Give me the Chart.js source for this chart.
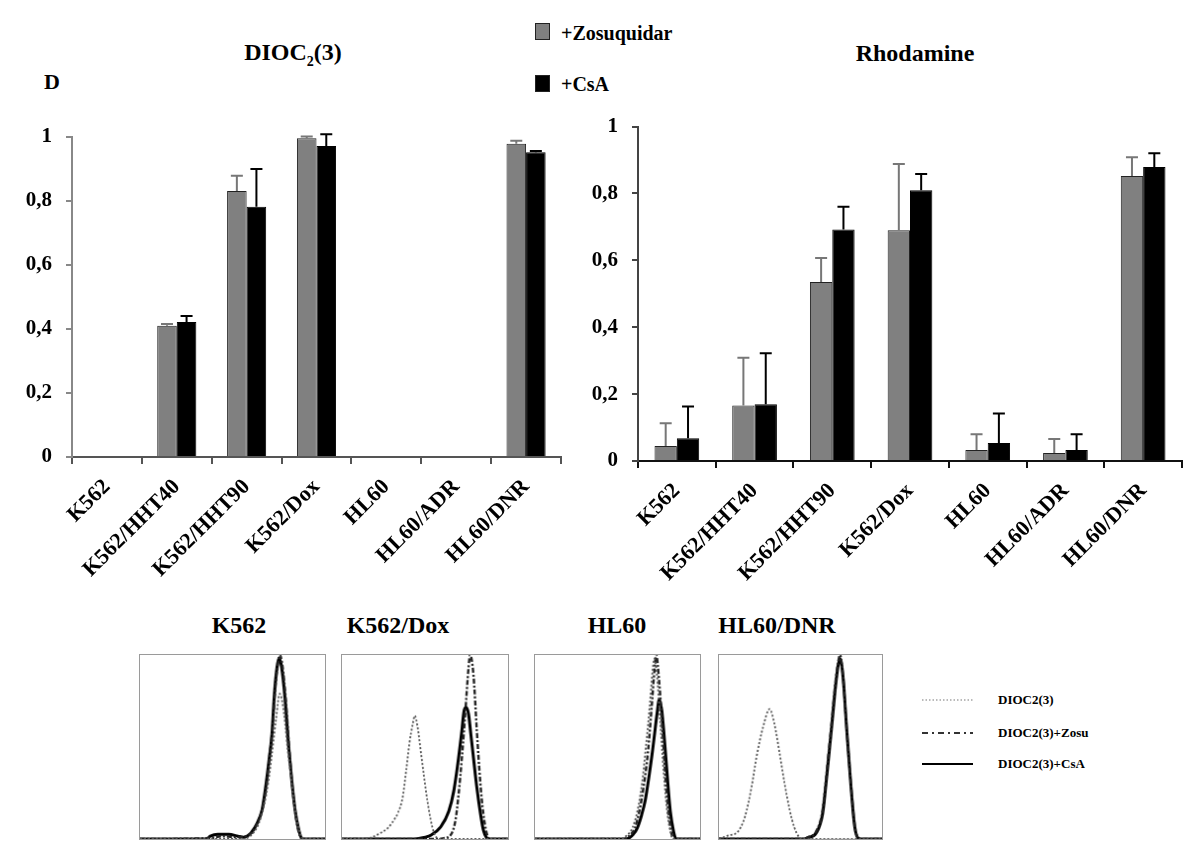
<!DOCTYPE html>
<html lang="en">
<head>
<meta charset="UTF-8">
<title>DIOC2(3) / Rhodamine efflux</title>
<script src="https://cdn.jsdelivr.net/npm/chart.js"></script>
<style>
  body { margin: 0; background: #fff; }
  #page { position: relative; width: 1200px; height: 864px; overflow: hidden;
          font-family: "Liberation Serif", "DejaVu Serif", serif; font-weight: bold; color: #000; }
  .abs { position: absolute; white-space: nowrap; }
  .title { font-size: 24px; line-height: 28px; transform: translate(-50%, -50%); }
  .leg { font-size: 20px; line-height: 22px; transform: translateY(-50%); }
  .sq { width: 15px; height: 17px; border: 1px solid #222; box-sizing: border-box; }
  .small { font-size: 13px; line-height: 14px; transform: translateY(-50%); }
  .panel { border: 1px solid #9a9a9a; }
</style>
</head>
<body>
<div id="page">
  <div class="abs title" style="left:293px; top:57px;">DIOC<sub style="font-size:14px;">2</sub>(3)</div>
  <div class="abs title" style="left:915px; top:53px;">Rhodamine</div>
  <div class="abs title" style="left:52px; top:82px; font-size:22px;">D</div>

  <div class="abs sq" style="left:535px; top:23px; background:#808080;"></div>
  <div class="abs leg" style="left:561px; top:33px;">+Zosuquidar</div>
  <div class="abs sq" style="left:535px; top:75px; background:#000;"></div>
  <div class="abs leg" style="left:561px; top:84px;">+CsA</div>

  <canvas id="diocChart" class="abs" width="600" height="500" style="left:0; top:110px;"></canvas>
  <canvas id="rhoChart" class="abs" width="640" height="500" style="left:560px; top:100px;"></canvas>

  <div class="abs title" style="left:239px; top:625px;">K562</div>
  <div class="abs title" style="left:398px; top:625px;">K562/Dox</div>
  <div class="abs title" style="left:617px; top:625px;">HL60</div>
  <div class="abs title" style="left:777px; top:625px;">HL60/DNR</div>

  <canvas id="histK562" class="abs panel" width="187" height="186" style="left:139px; top:654px;"></canvas>
  <canvas id="histDox" class="abs panel" width="168" height="186" style="left:341px; top:654px;"></canvas>
  <canvas id="histHL60" class="abs panel" width="167" height="186" style="left:534px; top:654px;"></canvas>
  <canvas id="histDNR" class="abs panel" width="165" height="186" style="left:718px; top:654px;"></canvas>

  <svg class="abs" style="left:920px; top:690px;" width="60" height="85">
    <line x1="2" y1="10" x2="53" y2="10" stroke="#777" stroke-width="1.2" stroke-dasharray="1.5 2"/>
    <line x1="2" y1="43" x2="53" y2="43" stroke="#333" stroke-width="2" stroke-dasharray="6 4 2 4"/>
    <line x1="2" y1="74" x2="53" y2="74" stroke="#000" stroke-width="2"/>
  </svg>
  <div class="abs small" style="left:998px; top:700px;">DIOC2(3)</div>
  <div class="abs small" style="left:998px; top:733px;">DIOC2(3)+Zosu</div>
  <div class="abs small" style="left:998px; top:764px;">DIOC2(3)+CsA</div>
</div>

<script>
  // bar charts: fraction of inhibition per cell line
  const cellLines = ['K562', 'K562/HHT40', 'K562/HHT90', 'K562/Dox', 'HL60', 'HL60/ADR', 'HL60/DNR'];
  const yTicks = ['0', '0,2', '0,4', '0,6', '0,8', '1'];

  const diocZosu    = [0, 0.41, 0.83, 0.995, 0, 0, 0.978];
  const diocZosuErr = [0, 0.005, 0.048, 0.005, 0, 0, 0.009];
  const diocCsa     = [0, 0.421, 0.781, 0.971, 0, 0, 0.951];
  const diocCsaErr  = [0, 0.019, 0.118, 0.036, 0, 0, 0.004];

  const rhoZosu    = [0.045, 0.166, 0.535, 0.69, 0.033, 0.024, 0.852];
  const rhoZosuErr = [0.068, 0.143, 0.072, 0.198, 0.047, 0.042, 0.056];
  const rhoCsa     = [0.068, 0.17, 0.692, 0.81, 0.054, 0.033, 0.879];
  const rhoCsaErr  = [0.095, 0.152, 0.068, 0.048, 0.088, 0.047, 0.041];

  // histograms: [channel, % of peak]
  const k562Dioc = [[0,0],[55,0],[60,2],[64,8],[67,18],[69.5,32],[71.5,48],[73.5,65],[75.5,79],[77,74],[78.5,62],[80,47],[81.8,32],[83.5,18],[85.5,7],[87.5,1],[90,0],[100,0]];
  const k562Zosu = [[0,0],[38,0.5],[44,1.5],[52,1],[57,1.5],[61,4],[64,10],[66.5,18],[68.5,30],[70,45],[71.8,62],[73,80],[74.5,95],[75.6,100],[77,94],[78.8,76],[80.6,50],[82.4,28],[84.2,12],[86,3],[88,0],[100,0]];
  const k562Csa  = [[0,0],[36,0],[38,1.5],[42,2.5],[48,2.5],[53,1.5],[56,1],[60,3.4],[63.4,8.8],[66,16],[67.7,26.7],[69.5,41],[71.3,57],[72.5,77],[74,93],[75.2,98.5],[76.6,93],[78.4,76],[80.2,52],[82,32],[83.8,16],[85.6,6],[87.3,0.5],[89,0],[100,0]];

  const doxDioc = [[0,0],[14,0],[18,1],[21.6,2.5],[27.6,6],[31,10],[33.6,14],[36.6,23],[38.7,37.6],[40.6,52],[42.6,62.5],[43.8,67],[45.5,61],[47.4,48],[49.4,34],[51.4,21],[53.4,10.5],[55.4,3.4],[57.3,0.5],[60,0],[100,0]];
  const doxZosu = [[0,0],[58,0],[61.3,0.5],[65.3,2],[68.3,10],[70.2,24],[72.2,44],[74.2,68],[76.2,93],[77.2,100],[79.2,89],[81.2,59],[83.2,32],[85.1,14],[87.1,3.4],[89.1,0],[100,0]];
  const doxCsa  = [[0,0],[44,0],[50,1],[53.4,2],[59.4,6.5],[64.3,15],[67.3,26],[70.2,44],[72.2,59],[73.6,70],[74.8,71.5],[76.2,68],[77.6,57],[79.2,44],[81.2,28],[83.2,15],[85.1,5],[87.1,0.7],[89,0],[100,0]];

  const hl60Dioc = [[0,0],[52,0],[55,1.5],[59,6],[62,15],[64.8,30],[67.2,50],[69.5,72],[71.3,92],[72.3,98],[73.8,90],[75.8,65],[78,36],[80.2,14],[82.3,3],[84,0],[100,0]];
  const hl60Zosu = [[0,0],[54,0],[56.6,1.4],[60.5,6],[63.2,15],[65.9,29],[68.6,48.6],[70.7,72],[72.5,93],[73.4,100],[75.3,85],[77.4,57],[79.3,30.5],[81.4,11],[83.2,1.4],[85,0],[100,0]];
  const hl60Csa  = [[0,0],[55,0],[59.3,2.3],[62,6],[64.6,13],[66.8,21],[68.6,31],[71.3,48.6],[74,68.5],[75.3,76],[76.8,70],[78,59],[80,36],[82,15],[84,4],[85.5,0],[100,0]];

  const dnrDioc = [[0,0.5],[1.8,0.7],[6,2],[10.9,3.4],[16,12.4],[20,28.5],[23,44.6],[27,60.8],[31.1,70.6],[34,62.5],[37.2,46.4],[40.2,30.3],[43.3,16],[46.2,6.3],[49.3,0.9],[52,0],[100,0]];
  const dnrZosu = [[0,0],[52,0],[53.9,0.7],[59.4,3.9],[63.4,14.9],[66,36],[68.8,61],[71.5,86],[72.9,95],[74.2,100],[76.1,88],[78.2,61],[81,29],[83.2,7.7],[85.1,0.7],[87,0],[100,0]];
  const dnrCsa  = [[0,0],[52,0],[54.5,0.7],[59.8,3.5],[63.6,14],[66.2,35],[69,60],[71.6,84],[73,94],[74.3,98],[76.2,87],[78.3,60],[81,28],[83.2,7],[85.3,0.5],[87,0],[100,0]];

  const serif = 'Liberation Serif';

  // upward error bars with a cap
  const errorBars = {
    id: 'errorBars',
    afterDatasetsDraw(chart) {
      const ctx = chart.ctx;
      const y = chart.scales.y;
      chart.data.datasets.forEach((ds, i) => {
        chart.getDatasetMeta(i).data.forEach((bar, j) => {
          const err = ds.errUp[j];
          if (!err) return;
          const top = y.getPixelForValue(ds.data[j] + err);
          ctx.save();
          ctx.strokeStyle = ds.errColor;
          ctx.lineWidth = 2;
          ctx.beginPath();
          ctx.moveTo(bar.x, bar.y);
          ctx.lineTo(bar.x, top);
          ctx.moveTo(bar.x - 6, top);
          ctx.lineTo(bar.x + 6, top);
          ctx.stroke();
          ctx.restore();
        });
      });
    }
  };

  function barChart(id, zosu, zosuErr, csa, csaErr, cfg) {
    return new Chart(document.getElementById(id), {
      type: 'bar',
      data: {
        labels: cellLines,
        datasets: [
          { label: '+Zosuquidar', data: zosu, errUp: zosuErr, errColor: '#777',
            backgroundColor: '#808080', borderColor: '#222', borderWidth: 1,
            categoryPercentage: cfg.cat, barPercentage: 1 },
          { label: '+CsA', data: csa, errUp: csaErr, errColor: '#000',
            backgroundColor: '#000', borderColor: '#000', borderWidth: 1,
            categoryPercentage: cfg.cat, barPercentage: 1 }
        ]
      },
      options: {
        responsive: false,
        animation: false,
        layout: { padding: { top: 23, right: cfg.right, left: 0, bottom: 0 } },
        plugins: { legend: { display: false }, tooltip: { enabled: false } },
        scales: {
          x: {
            grid: { offset: true, drawOnChartArea: false, tickLength: 7, color: cfg.xColor, lineWidth: 2 },
            border: { color: cfg.xColor, width: 2 },
            ticks: { minRotation: 45, maxRotation: 45, autoSkip: false, padding: 10, color: '#000',
                     font: { family: serif, size: 22, weight: 'bold' } },
            afterFit(s) { s.height = cfg.xHeight; }
          },
          y: {
            min: 0, max: 1,
            grid: { drawOnChartArea: false, tickLength: 6, color: cfg.yColor, lineWidth: 2 },
            border: { color: cfg.yColor, width: 2 },
            ticks: { stepSize: 0.2, padding: 14, color: '#000',
                     font: { family: serif, size: 21, weight: 'bold' },
                     callback: (v, i) => yTicks[i] },
            afterFit(s) { s.width = cfg.yWidth; }
          }
        }
      },
      plugins: [errorBars]
    });
  }

  barChart('diocChart', diocZosu, diocZosuErr, diocCsa, diocCsaErr,
    { cat: 0.56, right: 39, yWidth: 72, xHeight: 153, xColor: '#555', yColor: '#888' });
  barChart('rhoChart', rhoZosu, rhoZosuErr, rhoCsa, rhoCsaErr,
    { cat: 0.575, right: 18, yWidth: 78, xHeight: 139, xColor: '#111', yColor: '#444' });

  function histChart(id, dioc, zosu, csa) {
    return new Chart(document.getElementById(id), {
      type: 'line',
      data: {
        datasets: [
          { label: 'DIOC2(3)', data: dioc, borderColor: '#555', borderWidth: 1.8, borderDash: [2, 2] },
          { label: 'DIOC2(3)+Zosu', data: zosu, borderColor: '#222', borderWidth: 2.4, borderDash: [5, 2, 2, 2] },
          { label: 'DIOC2(3)+CsA', data: csa, borderColor: '#000', borderWidth: 3 }
        ]
      },
      options: {
        responsive: false,
        animation: false,
        layout: { padding: 0 },
        elements: { point: { radius: 0 }, line: { cubicInterpolationMode: 'monotone' } },
        datasets: { line: { clip: false } },
        plugins: { legend: { display: false }, tooltip: { enabled: false } },
        scales: {
          x: { type: 'linear', min: 0, max: 100, display: false },
          y: { min: 0, max: 100, display: false }
        }
      }
    });
  }

  histChart('histK562', k562Dioc, k562Zosu, k562Csa);
  histChart('histDox', doxDioc, doxZosu, doxCsa);
  histChart('histHL60', hl60Dioc, hl60Zosu, hl60Csa);
  histChart('histDNR', dnrDioc, dnrZosu, dnrCsa);
</script>
</body>
</html>
